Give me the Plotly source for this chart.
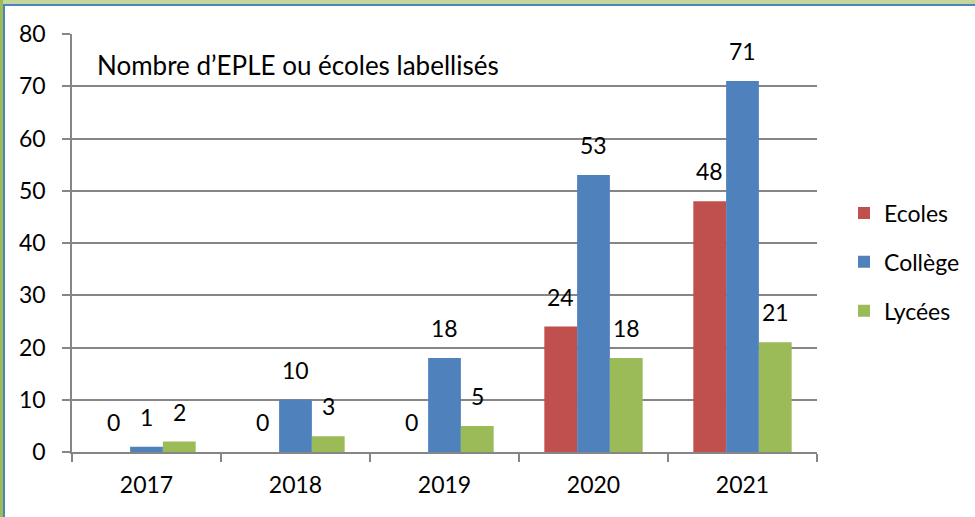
import plotly.graph_objects as go

years = ["2017", "2018", "2019", "2020", "2021"]
ecoles = [0, 0, 0, 24, 48]
college = [1, 10, 18, 53, 71]
lycees = [2, 3, 5, 18, 21]
series_names = ["Ecoles", "Collège", "Lycées"]
series_colors = ["#C0504D", "#4F81BD", "#9BBB59"]
y_ticks = [0, 10, 20, 30, 40, 50, 60, 70, 80]
title_text = "Nombre d’EPLE ou écoles labellisés"

FONT = "Lato"
FS = 23
W, H = 975, 517
L, R, T, B = 72, 158, 34, 65
PW, PH = W - L - R, H - T - B
BARGAP = 0.34
bar_px = PW / len(years) * (1 - BARGAP) / 3

fig = go.Figure()
annotations = []
all_vals = [ecoles, college, lycees]
for i, (name, vals) in enumerate(zip(series_names, all_vals)):
    fig.add_trace(go.Bar(
        x=years, y=vals, name=name,
        marker=dict(color=series_colors[i], line=dict(width=0)),
        legendgroup=name,
    ))
    for j, v in enumerate(vals):
        annotations.append(dict(x=j, y=v, xref="x", yref="y", text=str(v), showarrow=False,
                                xanchor="center", yanchor="bottom",
                                xshift=(i - 1) * bar_px, yshift=14,
                                font=dict(family=FONT, size=FS, color="#000000")))

def px_x(px):
    return (px - L) / PW

def px_y(py):
    return (H - B - py) / PH

annotations.append(dict(text=title_text, xref="paper", yref="paper", x=px_x(95), y=px_y(65),
                        xanchor="left", yanchor="middle", showarrow=False,
                        font=dict(family=FONT, size=26, color="#000000")))

shapes = [
    dict(type="rect", xref="paper", yref="paper", x0=px_x(0), x1=px_x(W), y0=px_y(0), y1=px_y(4),
         fillcolor="#C4D79B", line=dict(width=0), layer="above"),
    dict(type="rect", xref="paper", yref="paper", x0=px_x(0), x1=px_x(3), y0=px_y(0), y1=px_y(H),
         fillcolor="#9BBB59", line=dict(width=0), layer="above"),
    dict(type="rect", xref="paper", yref="paper", x0=px_x(3), x1=px_x(W), y0=px_y(4), y1=px_y(6),
         fillcolor="#4F81BD", line=dict(width=0), layer="above"),
    dict(type="rect", xref="paper", yref="paper", x0=px_x(3), x1=px_x(5), y0=px_y(4), y1=px_y(H),
         fillcolor="#4F81BD", line=dict(width=0), layer="above"),
]

fig.update_layout(
    width=W, height=H,
    margin=dict(l=L, r=R, t=T, b=B, autoexpand=False),
    paper_bgcolor="white", plot_bgcolor="white",
    barmode="group", bargap=BARGAP, bargroupgap=0,
    font=dict(family=FONT, size=FS, color="#000000"),
    shapes=shapes,
    annotations=annotations,
    showlegend=True,
    legend=dict(x=px_x(844), y=px_y(262), xanchor="left", yanchor="middle",
                font=dict(family=FONT, size=FS), tracegroupgap=16,
                bgcolor="rgba(0,0,0,0)", itemwidth=30),
)
fig.update_xaxes(type="category", range=[-0.5, len(years) - 0.5], showline=True,
                 linecolor="#868686", linewidth=1.5,
                 ticks="outside", tickson="boundaries", ticklen=8, tickcolor="#868686", tickwidth=1.5,
                 showgrid=False, tickfont=dict(family=FONT, size=FS), ticklabelstandoff=12,
                 tickangle=0, automargin=False)
fig.update_yaxes(range=[0, 80], tickvals=y_ticks, showline=True, linecolor="#868686", linewidth=1.5,
                 ticks="outside", ticklen=8, tickcolor="#868686", tickwidth=1.5,
                 showgrid=True, gridcolor="#868686", gridwidth=1.5, zeroline=False,
                 tickfont=dict(family=FONT, size=FS), ticklabelstandoff=12, automargin=False)

fig.write_html("out.html", config={"displayModeBar": False},
               post_script="document.body.style.margin='0';document.body.style.overflow='hidden';")
